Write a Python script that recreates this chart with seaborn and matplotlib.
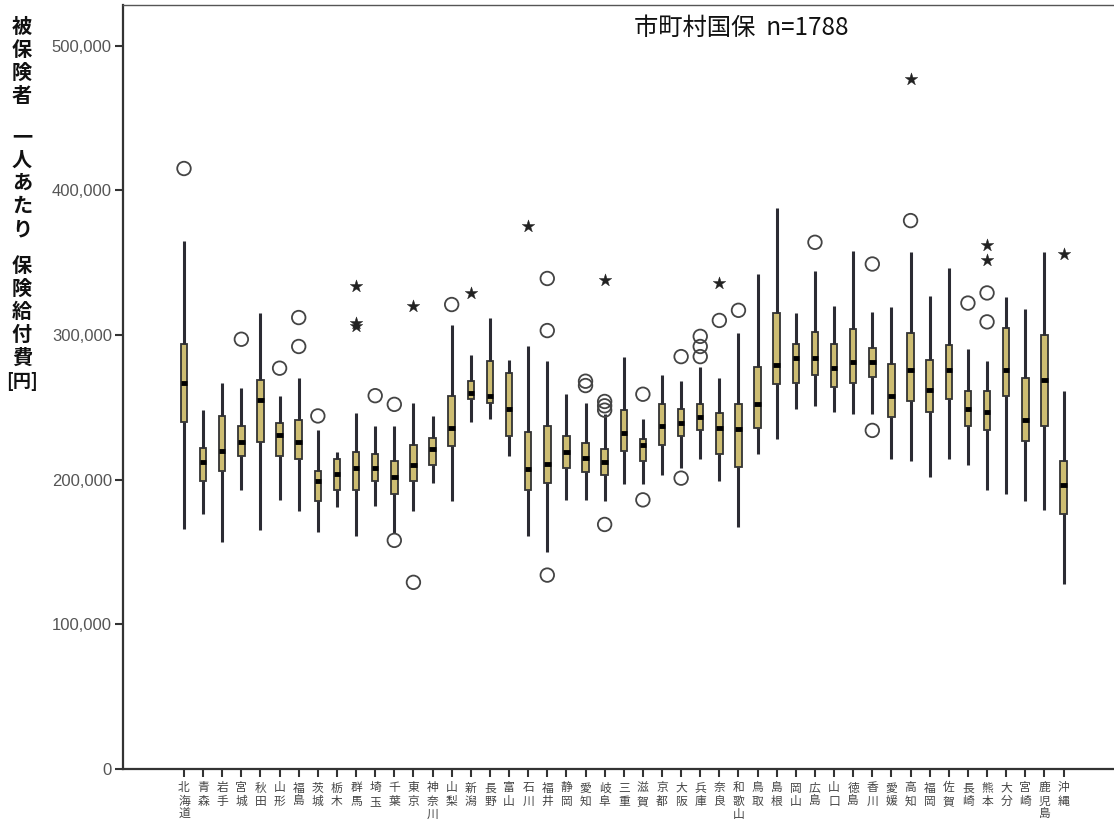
import numpy as np
import pandas as pd
import matplotlib
matplotlib.use("Agg")
import matplotlib.pyplot as plt
import seaborn as sns

# 都道府県 (表示順)
prefs = ["北海道", "青森", "岩手", "宮城", "秋田", "山形", "福島", "茨城", "栃木", "群馬",
         "埼玉", "千葉", "東京", "神奈川", "山梨", "新潟", "長野", "富山", "石川", "福井",
         "静岡", "愛知", "岐阜", "三重", "滋賀", "京都", "大阪", "兵庫", "奈良", "和歌山",
         "鳥取", "島根", "岡山", "広島", "山口", "徳島", "香川", "愛媛", "高知", "福岡",
         "佐賀", "長崎", "熊本", "大分", "宮崎", "鹿児島", "沖縄"]

# 箱ひげ (千円): ひげ下端, 第1四分位, 中央値, 第3四分位, ひげ上端
whisk_lo = [166, 176, 157, 193, 165, 186, 178, 164, 181, 161,
            182, 163, 178, 198, 185, 240, 242, 216, 161, 150,
            186, 186, 185, 197, 197, 203, 208, 214, 199, 167,
            218, 228, 249, 251, 247, 245, 245, 214, 213, 202,
            214, 210, 193, 190, 185, 179, 128]
q1 = [240, 199, 206, 216, 226, 216, 214, 185, 193, 193,
      199, 190, 199, 210, 223, 256, 253, 230, 193, 198,
      208, 205, 203, 220, 213, 224, 230, 234, 218, 209,
      236, 266, 267, 272, 264, 267, 271, 243, 254, 247,
      256, 237, 234, 258, 227, 237, 176]
median = [267, 212, 220, 226, 255, 231, 226, 199, 204, 208,
          208, 202, 210, 221, 236, 260, 258, 249, 207, 211,
          219, 215, 212, 232, 224, 237, 239, 243, 236, 235,
          252, 279, 284, 284, 277, 281, 281, 258, 276, 262,
          276, 249, 247, 276, 241, 269, 196]
q3 = [294, 222, 244, 237, 269, 239, 241, 206, 214, 219,
      218, 213, 224, 229, 258, 268, 282, 274, 233, 237,
      230, 225, 221, 248, 228, 252, 249, 252, 246, 252,
      278, 315, 294, 302, 294, 304, 291, 280, 301, 283,
      293, 261, 261, 305, 270, 300, 213]
whisk_hi = [365, 248, 267, 263, 315, 258, 270, 234, 219, 246,
            237, 237, 253, 244, 307, 286, 312, 283, 292, 282,
            259, 253, 245, 285, 242, 272, 268, 278, 270, 301,
            342, 388, 315, 344, 320, 358, 316, 319, 357, 327,
            346, 290, 282, 326, 318, 357, 261]

# 外れ値 (○) と 極値 (★)
circle_pref = ["北海道", "宮城", "山形", "福島", "福島", "茨城", "埼玉", "千葉", "千葉", "東京",
               "山梨", "福井", "福井", "福井", "愛知", "愛知", "岐阜", "岐阜", "岐阜", "岐阜",
               "滋賀", "滋賀", "大阪", "大阪", "兵庫", "兵庫", "兵庫", "奈良", "和歌山", "広島",
               "香川", "香川", "高知", "長崎", "熊本", "熊本"]
circle_val = [415, 297, 277, 312, 292, 244, 258, 252, 158, 129,
              321, 339, 303, 134, 268, 265, 254, 251, 248, 169,
              259, 186, 285, 201, 299, 292, 285, 310, 317, 364,
              349, 234, 379, 322, 329, 309]
star_pref = ["群馬", "群馬", "群馬", "東京", "新潟", "石川", "岐阜", "奈良", "高知", "熊本", "熊本", "沖縄"]
star_val = [334, 308, 306, 320, 329, 375, 338, 336, 477, 362, 352, 356]

# long形式へ
rows = []
for i, p in enumerate(prefs):
    for v in (whisk_lo[i], q1[i], median[i], q3[i], whisk_hi[i]):
        rows.append((p, v * 1000))
df = pd.DataFrame(rows, columns=["pref", "value"])

sns.set_style("ticks")
plt.rcParams["font.family"] = ["Noto Sans CJK JP", "DejaVu Sans"]

fig = plt.figure(figsize=(11.14, 8.27), dpi=100)
ax = fig.add_axes([123 / 1114, 58 / 827, 991 / 1114, 764 / 827])

sns.boxplot(data=df, x="pref", y="value", order=prefs, whis=(0, 100),
            width=0.34, color="#cdbd72", saturation=1, linecolor="#333333",
            linewidth=1.3, showcaps=False, fliersize=0, ax=ax,
            whiskerprops=dict(linewidth=2.2, color="#2b2b33"),
            medianprops=dict(linewidth=3.5, color="black", solid_capstyle="butt"))

cx = [prefs.index(p) for p in circle_pref]
sx = [prefs.index(p) for p in star_pref]
sns.scatterplot(x=cx, y=np.array(circle_val) * 1000, marker="o", s=95,
                facecolor="none", edgecolor="#444444", linewidth=1.3, ax=ax, zorder=5)
sns.scatterplot(x=sx, y=np.array(star_val) * 1000, marker="*", s=90,
                color="#222222", edgecolor="#222222", linewidth=0.3, ax=ax, zorder=5)

ax.set_xlim(-3.19, 48.64)
ax.set_ylim(0, 528000)
ax.set_xlabel("")
ax.set_ylabel("")

ax.set_yticks(range(0, 500001, 100000))
ax.set_yticklabels([f"{v:,}" for v in range(0, 500001, 100000)],
                   family=["Liberation Sans", "DejaVu Sans"], fontsize=12, color="#555555")
ax.set_xticks(range(len(prefs)))
ax.set_xticklabels(["\n".join(p) for p in prefs], fontsize=8.5, color="#444444",
                   linespacing=1.02, va="top")
ax.tick_params(axis="y", length=6, width=1.5, color="#333333", pad=2)
ax.tick_params(axis="x", length=6, width=1.5, color="#333333", pad=3)

for s in ("left", "bottom"):
    ax.spines[s].set_linewidth(1.6)
    ax.spines[s].set_color("#333333")
ax.spines["top"].set_linewidth(1.0)
ax.spines["top"].set_color("#555555")
ax.spines["right"].set_visible(False)

ax.text(0.6236, 0.97, "市町村国保  n=1788", transform=ax.transAxes,
        ha="center", va="center", fontsize=17.5, color="#111111")

# 縦書きの軸ラベル
ylab_groups = [("被保険者", 16), ("一人あたり", 126), ("保険給付費", 255)]
for chars, top in ylab_groups:
    fig.text(22 / 1114, 1 - top / 827, "\n".join(chars), ha="center", va="top",
             fontsize=14.5, fontweight="bold", linespacing=1.12, color="#111111")
fig.text(22 / 1114, 1 - 372 / 827, "[円]", ha="center", va="top",
         fontsize=13, fontweight="bold", color="#111111")

fig.savefig("out.png", dpi=100)
